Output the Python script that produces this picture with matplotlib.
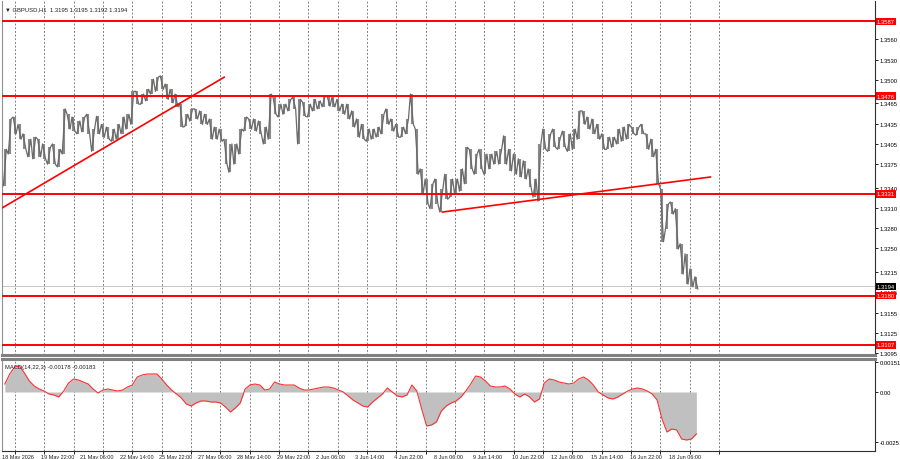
import numpy as np
import matplotlib
matplotlib.use('Agg')
import matplotlib.pyplot as plt
import matplotlib.transforms as mtransforms

plt.rcParams['font.family'] = ['Liberation Sans', 'DejaVu Sans']

symbol_title = '\u25bc GBPUSD,H1  1.3195 1.3195 1.3192 1.3194'
macd_title = 'MACD(14,22,3) -0.00178 -0.00183'

# high / low of every 4-bar block of H1 candles
block_high = [1.3397, 1.3442, 1.3445, 1.3434, 1.3420, 1.3412, 1.3415, 1.3412, 1.3405, 1.3400,
              1.3405, 1.3397, 1.3457, 1.3449, 1.3445, 1.3439, 1.3445, 1.3449, 1.3427, 1.3446,
              1.3434, 1.3430, 1.3427, 1.3434, 1.3445, 1.3449, 1.3483, 1.3483, 1.3479, 1.3486,
              1.3501, 1.3504, 1.3506, 1.3494, 1.3486, 1.3479, 1.3464, 1.3449, 1.3457, 1.3457,
              1.3454, 1.3449, 1.3442, 1.3430, 1.3427, 1.3412, 1.3405, 1.3405, 1.3427, 1.3445,
              1.3442, 1.3442, 1.3439, 1.3430, 1.3479, 1.3474, 1.3464, 1.3464, 1.3471, 1.3474,
              1.3471, 1.3467, 1.3464, 1.3471, 1.3469, 1.3476, 1.3476, 1.3474, 1.3471, 1.3464,
              1.3464, 1.3454, 1.3442, 1.3434, 1.3427, 1.3427, 1.3430, 1.3449, 1.3457, 1.3442,
              1.3434, 1.3430, 1.3442, 1.3479, 1.3427, 1.3368, 1.3353, 1.3346, 1.3353, 1.3338,
              1.3360, 1.3353, 1.3353, 1.3368, 1.3400, 1.3397, 1.3390, 1.3397, 1.3390, 1.3390,
              1.3394, 1.3397, 1.3417, 1.3397, 1.3390, 1.3383, 1.3380, 1.3368, 1.3353, 1.3405,
              1.3427, 1.3420, 1.3427, 1.3415, 1.3424, 1.3420, 1.3427, 1.3454, 1.3454, 1.3445,
              1.3442, 1.3434, 1.3420, 1.3415, 1.3415, 1.3427, 1.3430, 1.3434, 1.3430, 1.3430,
              1.3434, 1.3420, 1.3412, 1.3397, 1.3338, 1.3316, 1.3319, 1.3309, 1.3257, 1.3242,
              1.3220, 1.3208]
block_low = [1.3343, 1.3390, 1.3420, 1.3412, 1.3397, 1.3386, 1.3383, 1.3386, 1.3383, 1.3375,
             1.3375, 1.3371, 1.3390, 1.3427, 1.3424, 1.3420, 1.3423, 1.3420, 1.3394, 1.3420,
             1.3415, 1.3412, 1.3409, 1.3412, 1.3420, 1.3427, 1.3434, 1.3464, 1.3464, 1.3469,
             1.3479, 1.3483, 1.3486, 1.3471, 1.3466, 1.3460, 1.3430, 1.3431, 1.3439, 1.3442,
             1.3434, 1.3434, 1.3412, 1.3412, 1.3409, 1.3375, 1.3363, 1.3375, 1.3390, 1.3424,
             1.3427, 1.3424, 1.3420, 1.3405, 1.3412, 1.3449, 1.3445, 1.3449, 1.3454, 1.3457,
             1.3405, 1.3446, 1.3445, 1.3454, 1.3457, 1.3460, 1.3461, 1.3460, 1.3454, 1.3449,
             1.3442, 1.3430, 1.3415, 1.3412, 1.3409, 1.3412, 1.3415, 1.3420, 1.3434, 1.3424,
             1.3415, 1.3415, 1.3420, 1.3434, 1.3360, 1.3331, 1.3316, 1.3309, 1.3316, 1.3304,
             1.3323, 1.3326, 1.3331, 1.3335, 1.3346, 1.3368, 1.3360, 1.3368, 1.3360, 1.3368,
             1.3375, 1.3375, 1.3375, 1.3365, 1.3360, 1.3356, 1.3353, 1.3341, 1.3326, 1.3320,
             1.3397, 1.3394, 1.3400, 1.3397, 1.3400, 1.3394, 1.3397, 1.3412, 1.3434, 1.3427,
             1.3420, 1.3412, 1.3397, 1.3397, 1.3400, 1.3405, 1.3409, 1.3412, 1.3420, 1.3418,
             1.3420, 1.3397, 1.3386, 1.3346, 1.3260, 1.3279, 1.3301, 1.3249, 1.3212, 1.3197,
             1.3193, 1.3190]
macd_main = [0.0004, 0.0009, 0.00125, 0.0013, 0.00095, 0.00055, 0.0003, 0.00015, 0.00005, -0.0001,
             -0.00015, -0.00025, 0.00005, 0.00045, 0.00065, 0.0006, 0.0005, 0.0004, 0.00015, -0.00005,
             0.0001, 0.00015, 0.0001, 0.00005, 0.0001, 0.00025, 0.00035, 0.00075, 0.00085, 0.0009,
             0.0009, 0.0009, 0.00065, 0.00035, 0.0001, -0.0001, -0.0003, -0.0006, -0.0007, -0.00055,
             -0.00045, -0.00045, -0.0005, -0.0005, -0.00055, -0.00075, -0.001, -0.0008, -0.00055, 0.00015,
             0.00035, 0.0004, 0.00035, 0.0001, 0.00015, 0.0005, 0.0004, 0.00035, 0.00035, 0.00035,
             0.0002, 0.0001, 0.0001, 0.00015, 0.0002, 0.00025, 0.00025, 0.0002, 0.0001, 0.0,
             -0.0002, -0.0004, -0.00055, -0.0007, -0.00075, -0.0005, -0.0003, -0.0001, 0.0002, 0.0,
             -0.0002, -0.00025, -0.00015, 0.00035, 0.00005, -0.00085, -0.0017, -0.00165, -0.0015, -0.00095,
             -0.0007, -0.00055, -0.00045, -0.00025, 0.00005, 0.0004, 0.0008, 0.00075, 0.00055, 0.0003,
             0.00025, 0.00025, 0.0003, 0.00015, -0.0001, -0.00025, -0.0001, -0.00025, -0.0005, -0.00035,
             0.00045, 0.00065, 0.0006, 0.0005, 0.00045, 0.0004, 0.00045, 0.00065, 0.00075, 0.0006,
             0.00035, 0.0, -0.00015, -0.0003, -0.00035, -0.00025, -0.0001, 0.00005, 0.00015, 0.0002,
             0.00015, 0.00005, -0.0001, -0.0004, -0.00135, -0.002, -0.00185, -0.0019, -0.00235, -0.0024,
             -0.00235, -0.0021]
last_price = 1.3194

levels = [1.3587, 1.3476, 1.3331, 1.3180, 1.3107]
trend1_bars = [-0.8, 180.4]
trend1_prices = [1.3310, 1.3504]
trend2_bars = [358.4, 577.0]
trend2_prices = [1.3304, 1.3356]

price_ticks = [1.3560, 1.3530, 1.3500, 1.3465, 1.3435, 1.3405, 1.3375, 1.3340,
               1.3310, 1.3280, 1.3250, 1.3215, 1.3185, 1.3155, 1.3125, 1.3095]
macd_ticks = [0.00151, 0.0, -0.0025]
macd_tick_labels = ['0.00151', '0.00', '-0.0025']
time_labels = ['18 May 2026', '19 May 22:00', '21 May 06:00', '22 May 14:00', '25 May 22:00',
               '27 May 06:00', '28 May 14:00', '29 May 22:00', '2 Jun 06:00', '3 Jun 14:00',
               '4 Jun 22:00', '8 Jun 06:00', '9 Jun 14:00', '10 Jun 22:00', '12 Jun 06:00',
               '15 Jun 14:00', '16 Jun 22:00', '18 Jun 06:00']

bars = np.arange(len(block_high)) * 4 + 1.5
label_bars = np.arange(len(time_labels)) * 32 - 0.8
grid_bars = np.arange(25) * 23.92 + 9.8
xlim = (-0.8, 711.2)

hi = np.array(block_high)
lo = np.array(block_low)
mid = (hi + lo) / 2

# zigzag path through each block's range, in the direction the price moves next
zx, zy = [], []
for i in range(len(bars)):
    going_down = i + 1 == len(bars) or mid[i + 1] < mid[i]
    first, second = (hi[i], lo[i]) if going_down else (lo[i], hi[i])
    zx += [bars[i] - 1.2, bars[i] + 1.2]
    zy += [first, second]

fig = plt.figure(figsize=(9, 4.6), dpi=100)
ax = fig.add_axes([2 / 900, 1 - 356 / 460, 873 / 900, 354 / 460])
ax2 = fig.add_axes([2 / 900, 1 - 452 / 460, 873 / 900, 92 / 460])

# ---- price panel
for g in grid_bars:
    ax.axvline(g, color='#6a6a6a', lw=0.6, ls=(0, (2.2, 2.2)), zorder=0)
ax.vlines(bars, lo, hi, color='#8a8a8a', lw=1.5, zorder=2)
ax.plot(zx, zy, color='#6a6a6a', lw=0.9, zorder=3)
ax.axhline(last_price, color='#c8c8c8', lw=0.7, zorder=1)
for lv in levels:
    ax.axhline(lv, color='#ff0000', lw=1.4, zorder=4)
ax.plot(trend1_bars, trend1_prices, color='#ff0000', lw=1.2, zorder=4)
ax.plot(trend2_bars, trend2_prices, color='#ff0000', lw=1.2, zorder=4)

ax.set_xlim(*xlim)
ax.set_ylim(1.3092, 1.3617)
ax.yaxis.tick_right()
ax.set_yticks(price_ticks)
ax.set_yticklabels(['%.4f' % t for t in price_ticks])
ax.tick_params(axis='y', direction='out', length=2, width=0.6, labelsize=4.2, pad=1.2)
ax.set_xticks([])
ax.spines['top'].set_visible(False)
ax.spines['left'].set_color('#909090')
ax.spines['right'].set_color('#303030')
ax.spines['bottom'].set_color('#808080')
ax.spines['bottom'].set_linewidth(2.2)

ytr = mtransforms.blended_transform_factory(ax.transAxes, ax.transData)
for lv in levels:
    ax.text(1.002, lv, '%.4f' % lv, transform=ytr, color='white', size=4.2, va='center', ha='left',
            bbox=dict(boxstyle='square,pad=0.2', fc='#ff0000', ec='none'), clip_on=False, zorder=10)
ax.text(1.002, last_price, '%.4f' % last_price, transform=ytr, color='white', size=4.2, va='center',
        ha='left', bbox=dict(boxstyle='square,pad=0.2', fc='black', ec='none'), clip_on=False, zorder=10)
ax.text(0.004, 0.985, symbol_title, transform=ax.transAxes, size=4.2, va='top', ha='left', color='#202020')

# ---- MACD panel
for g in grid_bars:
    ax2.axvline(g, color='#6a6a6a', lw=0.6, ls=(0, (2.2, 2.2)), zorder=0)
ax2.fill_between(bars, 0, macd_main, color='#c0c0c0', lw=0, zorder=2)
ax2.plot(bars, macd_main, color='#ff3030', lw=0.8, zorder=3)
ax2.set_xlim(*xlim)
ax2.set_ylim(-0.00295, 0.00165)
ax2.yaxis.tick_right()
ax2.set_yticks(macd_ticks)
ax2.set_yticklabels(macd_tick_labels)
ax2.tick_params(axis='y', direction='out', length=2, width=0.6, labelsize=4.2, pad=1.2)
ax2.set_xticks(grid_bars)
ax2.set_xticklabels([])
ax2.tick_params(axis='x', direction='out', length=2, width=0.6)
ax2.spines['left'].set_color('#909090')
ax2.spines['right'].set_color('#303030')
ax2.spines['bottom'].set_color('#303030')
ax2.spines['top'].set_color('#808080')
ax2.spines['top'].set_linewidth(2.2)
ax2.text(0.004, 0.95, macd_title, transform=ax2.transAxes, size=4.2, va='top', ha='left', color='#202020')

xtr = mtransforms.blended_transform_factory(ax2.transData, ax2.transAxes)
for b, lab in zip(label_bars, time_labels):
    ax2.text(b, -0.03, lab, transform=xtr, size=4.0, va='top', ha='left', color='#202020', clip_on=False)

fig.savefig('out.png', dpi=100, facecolor='white')
